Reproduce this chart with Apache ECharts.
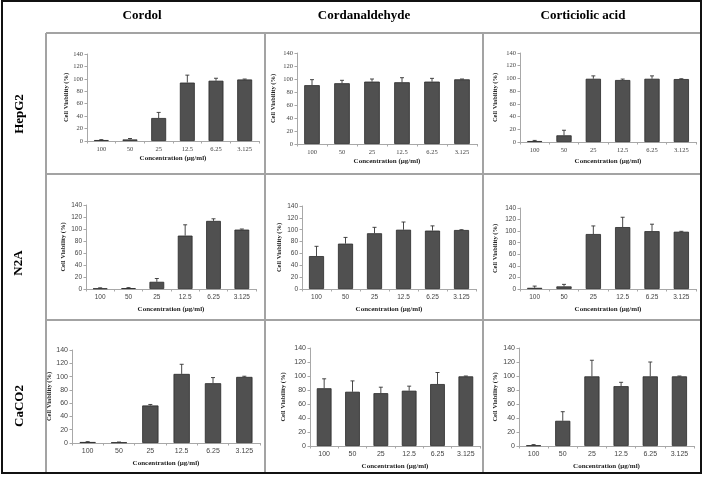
<!DOCTYPE html>
<html><head><meta charset="utf-8">
<script src="https://cdn.jsdelivr.net/npm/echarts@6/dist/echarts.min.js"></script>
<style>html,body{margin:0;padding:0;background:#fff}#c{width:704px;height:479px}</style>
</head><body><div id="c"></div>
<script>
// ---- data ----
const categories = ['100', '50', '25', '12.5', '6.25', '3.125'];
const compoundNames = ['Cordol', 'Cordanaldehyde', 'Corticiolic acid'];
const cellLineNames = ['HepG2', 'N2A', 'CaCO2'];
const yMin = 0, yMax = 140, yInterval = 20;
const yAxisName = 'Cell Viability (%)';
const xAxisName = 'Concentration (\u00b5g/ml)';

const cordolHepG2 = [1.5, 2.5, 37, 94, 97, 99];
const cordolHepG2Err = [0.7, 1.5, 9, 12, 4, 0.7];
const cordanHepG2 = [90.5, 93.5, 96, 95, 96, 99.5];
const cordanHepG2Err = [8.5, 4.5, 4, 7, 5, 0.5];
const corticHepG2 = [1.5, 10.5, 99.5, 97.5, 99.5, 99];
const corticHepG2Err = [1, 8, 4.5, 1.5, 4.5, 0.5];

const cordolN2A = [1, 1.5, 12, 89, 113.5, 99];
const cordolN2AErr = [1, 0.8, 5.5, 18, 3.5, 1];
const cordanN2A = [55.5, 76.5, 94, 100, 98.5, 99.5];
const cordanN2AErr = [16.5, 10.5, 10, 13, 8, 0.5];
const corticN2A = [2, 4.5, 95, 107, 100, 99];
const corticN2AErr = [3, 3.5, 14, 17, 12, 0.7];

const cordolCaCO2 = [1.5, 1, 56.5, 104, 90, 99.5];
const cordolCaCO2Err = [0.5, 0.5, 1.5, 14.5, 8.5, 1];
const cordanCaCO2 = [82.5, 77.5, 75.5, 79, 88.5, 99.5];
const cordanCaCO2Err = [13.5, 15.5, 8.5, 6.5, 16.5, 0.5];
const corticCaCO2 = [1, 36, 99.5, 85.5, 99.5, 99.5];
const corticCaCO2Err = [1, 13, 23, 5.5, 20.5, 0.5];

const panelValues = [
  [cordolHepG2, cordanHepG2, corticHepG2],
  [cordolN2A, cordanN2A, corticN2A],
  [cordolCaCO2, cordanCaCO2, corticCaCO2]
];
const panelErrors = [
  [cordolHepG2Err, cordanHepG2Err, corticHepG2Err],
  [cordolN2AErr, cordanN2AErr, corticN2AErr],
  [cordolCaCO2Err, cordanCaCO2Err, corticCaCO2Err]
];

// ---- layout (pixels) ----
// [left, top, width, height, yNameGap, xNameGap]
const panelBoxes = [
  [[87, 54, 172, 87, 17, 14], [297, 53, 180, 91, 20, 14], [520, 53, 176, 89, 21, 16]],
  [[86, 205, 170, 84, 16, 17], [302, 206, 174, 83, 18, 17], [520, 208, 176, 81, 21, 17]],
  [[72, 350, 188, 93, 11, 17], [310, 348, 170, 98, 23, 17], [519, 348, 175, 98, 20, 17]]
];

const serif = '"Liberation Serif", "DejaVu Serif", serif';
const sans = '"Liberation Sans", Arial, sans-serif';

const grids = [], xAxes = [], yAxes = [], series = [];
let k = 0;
for (let r = 0; r < 3; r++) {
  for (let c = 0; c < 3; c++) {
    const b = panelBoxes[r][c];
    const tickFs = r === 2 ? 7 : 6.5;
    const tickFamily = r === 0 ? serif : sans;
    grids.push({ left: b[0], top: b[1], width: b[2], height: b[3], containLabel: false });
    xAxes.push({
      type: 'category', gridIndex: k, data: categories,
      name: xAxisName, nameLocation: 'middle', nameGap: b[5],
      nameTextStyle: { fontFamily: serif, fontWeight: 'bold', fontSize: 7, color: '#222' },
      axisLine: { lineStyle: { color: '#a8a8a8', width: 1 } },
      axisTick: { show: true, length: 2.5, lineStyle: { color: '#a8a8a8' } },
      axisLabel: { fontSize: tickFs, fontFamily: tickFamily, color: '#444', margin: 5 }
    });
    yAxes.push({
      type: 'value', gridIndex: k, min: yMin, max: yMax, interval: yInterval,
      name: yAxisName, nameLocation: 'middle', nameGap: b[4], nameRotate: 90,
      nameTextStyle: { fontFamily: serif, fontWeight: 'bold', fontSize: 6.5, color: '#222' },
      axisLine: { show: true, lineStyle: { color: '#a8a8a8', width: 1 } },
      axisTick: { show: true, length: 2.5, lineStyle: { color: '#a8a8a8' } },
      splitLine: { show: false },
      axisLabel: { fontSize: tickFs, fontFamily: tickFamily, color: '#444', margin: 4 }
    });
    const vals = panelValues[r][c];
    const errs = panelErrors[r][c];
    series.push({
      type: 'bar', xAxisIndex: k, yAxisIndex: k, data: vals,
      barWidth: '52%',
      itemStyle: { color: '#505050', borderColor: '#2a2a2a', borderWidth: 0.8 },
      silent: true, animation: false
    });
    series.push({
      type: 'custom', xAxisIndex: k, yAxisIndex: k,
      data: vals.map((v, i) => [i, v, v + errs[i]]),
      renderItem: function (params, api) {
        const p0 = api.coord([api.value(0), api.value(1)]);
        const p1 = api.coord([api.value(0), api.value(2)]);
        const w = 2;
        return {
          type: 'group',
          children: [
            { type: 'line', shape: { x1: p0[0], y1: p0[1], x2: p1[0], y2: p1[1] }, style: { stroke: '#333', lineWidth: 0.9 } },
            { type: 'line', shape: { x1: p1[0] - w, y1: p1[1], x2: p1[0] + w, y2: p1[1] }, style: { stroke: '#333', lineWidth: 0.9 } }
          ]
        };
      },
      z: 5, silent: true, animation: false
    });
    k++;
  }
}

// ---- table decoration ----
const tableLine = { stroke: '#a3a3a3', lineWidth: 2 };
const graphics = [
  { type: 'line', shape: { x1: 46, y1: 33, x2: 701, y2: 33 }, style: tableLine },
  { type: 'line', shape: { x1: 46, y1: 174, x2: 701, y2: 174 }, style: tableLine },
  { type: 'line', shape: { x1: 46, y1: 320, x2: 701, y2: 320 }, style: tableLine },
  { type: 'line', shape: { x1: 46, y1: 33, x2: 46, y2: 473 }, style: tableLine },
  { type: 'line', shape: { x1: 265, y1: 33, x2: 265, y2: 473 }, style: tableLine },
  { type: 'line', shape: { x1: 483, y1: 33, x2: 483, y2: 473 }, style: tableLine },
  { type: 'rect', shape: { x: 2, y: 1, width: 699, height: 472 }, style: { fill: 'none', stroke: '#111', lineWidth: 2 } }
];
const headerX = [142, 364, 583];
compoundNames.forEach((n, i) => graphics.push({
  type: 'text', x: headerX[i], y: 16,
  style: { text: n, fontFamily: serif, fontWeight: 'bold', fontSize: 13, fill: '#000', align: 'center', verticalAlign: 'middle' }
}));
const rowLabelPos = [[20, 114], [19, 263], [20, 406]];
cellLineNames.forEach((n, i) => graphics.push({
  type: 'text', x: rowLabelPos[i][0], y: rowLabelPos[i][1], rotation: Math.PI / 2,
  style: { text: n, fontFamily: serif, fontWeight: 'bold', fontSize: 13, fill: '#000', align: 'center', verticalAlign: 'middle' }
}));

const chart = echarts.init(document.getElementById('c'), null, { renderer: 'canvas' });
chart.setOption({
  animation: false,
  backgroundColor: '#fff',
  grid: grids, xAxis: xAxes, yAxis: yAxes, series: series,
  graphic: { elements: graphics }
});
</script>
</body></html>
